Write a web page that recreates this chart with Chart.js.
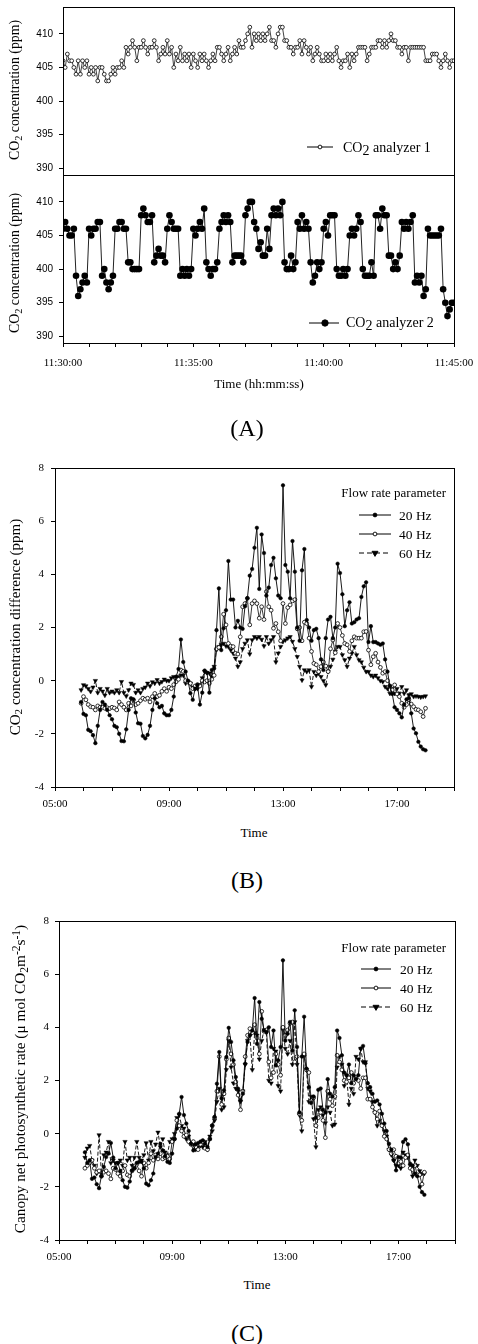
<!DOCTYPE html>
<html><head><meta charset="utf-8"><title>CO2 flow rate charts</title>
<script src="https://cdn.jsdelivr.net/npm/chart.js@4/dist/chart.umd.min.js"></script>
<style>
html,body{margin:0;padding:0;background:#fff;}
#wrap{position:relative;width:478px;height:1344px;overflow:hidden;font-family:"Liberation Serif","Times New Roman",serif;color:#000;}
canvas{position:absolute;left:0;}
.t{position:absolute;white-space:nowrap;line-height:1;}
.rot{transform:translate(-50%,-50%) rotate(-90deg);}
.ctr{transform:translate(-50%,-50%);}
sub{font-size:0.75em;vertical-align:-0.25em;line-height:0;}
sup{font-size:0.75em;vertical-align:0.45em;line-height:0;}
</style></head>
<body>
<div id="wrap">
<canvas id="cA1" width="478" height="180" style="top:0px;width:478px;height:180px"></canvas>
<canvas id="cA2" width="478" height="210" style="top:170px;width:478px;height:210px"></canvas>
<canvas id="cB" width="478" height="360" style="top:450px;width:478px;height:360px"></canvas>
<canvas id="cC" width="478" height="370" style="top:900px;width:478px;height:370px"></canvas>

<div class="t rot" style="left:15px;top:90px;font-size:13.8px">CO<sub>2</sub> concentration (ppm)</div>
<div class="t rot" style="left:15px;top:263px;font-size:13.8px">CO<sub>2</sub> concentration (ppm)</div>
<div class="t ctr" style="left:259px;top:383px;font-size:13px">Time (hh:mm:ss)</div>
<div class="t ctr" style="left:247px;top:428px;font-size:24px">(A)</div>

<div class="t rot" style="left:15px;top:627px;font-size:15px">CO<sub>2</sub> concentration difference (ppm)</div>
<div class="t ctr" style="left:254px;top:832px;font-size:13px">Time</div>
<div class="t ctr" style="left:247px;top:880px;font-size:24px">(B)</div>

<div class="t rot" style="left:20px;top:1079px;font-size:15.3px">Canopy net photosynthetic rate (μ mol CO<sub>2</sub>m<sup>-2</sup>s<sup>-1</sup>)</div>
<div class="t ctr" style="left:257px;top:1284px;font-size:13px">Time</div>
<div class="t ctr" style="left:247px;top:1333px;font-size:24px">(C)</div>
</div>
<script>
const SERIF='"Liberation Serif","Times New Roman",serif';
const SANS='"Liberation Sans",Arial,sans-serif';

// ---------- Panel A data (one reading every 5 s, 11:30:00 - 11:45:00) ----------
const aStepSec=5;
const aXTicks=[0,60,120,180,240,300,360,420,480,540,600,660,720,780,840,900];
const aXLabels={0:'11:30:00',300:'11:35:00',600:'11:40:00',900:'11:45:00'};
const aYTicks=[390,395,400,405,410];
const analyzer1=[
406,405,407,406,406,405,404,406,404,406,405,406,
404,405,404,405,403,405,405,404,403,403,404,405,
404,405,405,406,405,408,407,408,409,408,406,408,
408,409,408,407,408,408,409,408,406,407,408,407,
409,407,408,405,407,406,408,406,407,406,407,405,
407,406,405,407,406,407,406,405,406,407,406,408,
408,407,406,407,408,406,407,408,407,409,408,408,
409,410,411,408,410,409,410,409,410,409,410,411,
409,409,408,410,411,411,409,409,408,408,407,408,
408,409,407,409,408,407,408,406,407,408,407,406,
406,407,406,407,406,407,408,406,405,406,406,407,
405,407,406,407,408,408,408,408,406,407,408,408,
408,409,409,408,409,408,409,410,409,409,408,408,
407,408,408,406,408,408,408,408,408,408,408,406,
406,406,407,407,407,406,405,406,407,406,405,406,
406];
const analyzer2=[
406,407,406,405,405,406,399,396,397,398,399,398,
406,405,406,406,407,407,399,400,398,397,398,399,
406,406,407,407,406,406,401,401,400,400,400,400,
408,409,408,407,407,408,401,402,403,402,402,401,
406,408,407,406,406,406,399,400,399,400,399,400,
406,405,406,407,406,409,401,400,399,400,400,401,
406,407,408,407,408,407,401,402,402,402,402,401,
408,409,410,410,407,406,403,404,402,402,406,403,
408,409,408,409,408,410,401,400,400,402,400,401,
407,406,408,406,407,406,401,398,399,401,400,401,
406,407,405,408,408,408,400,399,399,400,399,400,
405,406,405,406,408,407,400,399,399,399,401,399,
408,408,406,409,408,408,402,402,400,401,400,402,
407,406,407,406,407,408,398,399,398,399,396,397,
406,405,405,405,405,405,406,397,395,393,394,395,
395];

// ---------- Panels B & C data (one value every 5 min from 05:55) ----------
const bcStartMin=355, bcStepMin=5;
const bcXTicks=[5,6,7,8,9,10,11,12,13,14,15,16,17,18,19];
const bcXLabels={5:'05:00',9:'09:00',13:'13:00',17:'17:00'};
const bcYTicks=[-4,-2,0,2,4,6,8];
const diff20=[-0.8,
-1.25,-1.3,-1.85,-1.9,-2.05,-2.35,-1.7,-1.1,-0.8,-0.9,-1.1,-1.3,
-1.45,-1.7,-1.75,-2.0,-2.27,-2.28,-1.83,-1.1,-0.66,-0.7,-1.2,-1.6,
-1.62,-2.08,-2.17,-2.04,-1.7,-1.1,-0.66,-0.85,-1.0,-0.95,-1.23,-1.3,
-1.3,-1.1,-0.6,0.15,0.44,1.55,0.7,0.34,0.0,-0.47,-0.72,-0.3,
-0.16,-0.9,-0.45,0.38,0.3,-0.45,0.4,0.46,1.9,3.47,1.15,1.97,
2.65,4.5,3.05,3.05,2.0,2.25,2.0,1.95,2.8,3.1,3.95,4.2,
5.0,5.75,3.45,5.5,4.8,3.2,3.5,4.35,4.62,3.85,3.2,3.1,
7.35,4.35,4.1,3.1,5.25,4.1,2.0,1.5,4.15,4.95,2.28,2.0,
1.5,1.9,1.95,1.6,0.8,0.4,1.6,2.3,2.4,1.6,2.0,4.4,
4.05,3.25,2.05,2.65,2.95,2.15,2.2,2.3,2.35,3.15,3.55,3.7,
1.45,2.05,1.45,1.45,1.4,1.35,1.4,0.8,0.34,-0.2,-0.5,-1.0,
-1.1,-1.23,-1.38,-0.9,-0.7,-0.65,-1.23,-1.8,-1.98,-2.3,-2.48,-2.58,
-2.62];
const diff40=[-0.85,
-0.6,-0.72,-0.9,-0.98,-1.0,-1.1,-0.95,-1.0,-1.0,-1.04,-1.02,-1.05,
-1.0,-1.03,-1.1,-0.8,-0.9,-1.0,-1.1,-0.85,-0.95,-0.73,-0.9,-0.85,
-0.75,-0.66,-0.7,-0.66,-0.8,-0.6,-0.48,-0.6,-0.55,-0.4,-0.3,-0.4,
-0.25,-0.3,-0.15,-0.04,0.05,0.4,0.35,0.0,-0.05,-0.1,-0.3,-0.2,
-0.15,-0.2,0.0,-0.05,0.0,-0.1,0.05,0.2,1.2,1.25,1.65,2.5,
2.1,1.4,1.3,1.28,1.03,1.0,1.65,2.78,2.9,3.1,2.1,2.9,
3.0,2.9,2.35,2.78,2.3,3.35,2.78,2.65,1.97,2.15,1.84,1.5,
2.9,2.15,2.75,2.85,3.0,3.05,1.95,2.0,1.5,2.2,2.15,1.6,
1.1,0.65,0.6,0.34,0.53,0.7,0.55,0.34,1.2,1.53,1.05,2.15,
2.0,1.7,1.4,1.35,1.1,1.5,1.65,1.6,1.6,1.6,1.84,1.85,
1.15,0.6,0.9,1.03,0.7,0.5,0.28,0.34,0.0,-0.2,-0.35,-0.16,
-0.5,-0.6,-0.85,-1.0,-0.9,-0.72,-0.88,-0.98,-1.08,-1.1,-1.17,-1.35,
-1.04];
const diff60=[-0.35,
-0.16,-0.2,-0.3,-0.41,-0.25,0.0,-0.45,-0.3,-0.4,-0.55,-0.3,-0.45,
-0.4,-0.45,-0.35,-0.45,-0.04,-0.45,-0.58,-0.35,-0.1,-0.15,-0.45,-0.35,
-0.45,-0.3,-0.25,-0.1,-0.2,-0.05,-0.1,0.03,-0.1,-0.04,0.05,0.0,
0.0,0.1,0.15,0.0,0.15,0.2,0.2,-0.1,-0.04,-0.1,-0.25,-0.3,
-0.3,-0.16,0.1,0.34,0.3,0.28,0.15,0.53,1.15,1.28,1.35,1.4,
1.3,1.28,1.15,1.03,0.84,0.53,0.7,1.2,1.4,1.53,1.0,1.53,
1.65,1.6,1.65,1.55,1.3,1.65,1.4,1.53,1.65,0.7,1.03,1.28,
1.47,1.53,1.6,1.65,1.47,1.2,0.9,0.53,0.02,0.4,0.34,0.4,
-0.23,0.34,0.2,0.28,0.15,0.0,-0.16,0.34,0.53,0.8,1.1,1.28,
1.28,0.97,0.78,0.53,0.84,1.03,1.28,0.97,0.78,0.7,0.5,0.34,
0.34,0.2,0.15,0.2,0.1,0.0,-0.04,-0.23,-0.3,-0.48,-0.3,-0.48,
-0.3,-0.48,-0.23,-0.48,-0.35,-0.54,-0.5,-0.6,-0.58,-0.6,-0.62,-0.6,
-0.58];
const photo20=[-0.7,
-1.1,-1.0,-1.7,-1.65,-1.9,-2.05,-1.6,-1.25,-0.88,-0.75,-0.35,-0.9,
-1.3,-1.1,-1.4,-1.75,-2.0,-2.03,-1.8,-1.38,-1.3,-1.1,-1.06,-1.06,
-1.3,-1.88,-1.94,-1.75,-1.5,-0.88,-0.75,-0.38,-0.63,-0.85,-1.06,-1.1,
-0.75,-0.2,0.19,0.75,1.38,0.7,0.38,0.1,-0.38,-0.63,-0.4,-0.35,
-0.3,-0.25,-0.38,-0.5,-0.2,0.31,0.63,1.88,3.07,1.32,1.63,2.88,
3.98,3.45,2.76,2.13,1.69,1.25,1.5,2.63,3.45,3.7,3.88,5.1,
3.38,4.95,4.32,3.88,3.82,4.0,3.26,3.88,2.57,2.76,3.26,6.52,
3.5,3.76,4.2,3.13,4.64,3.26,0.8,2.9,4.4,2.45,1.75,1.15,
1.4,0.6,1.65,1.7,0.9,0.8,2.05,1.5,1.4,1.75,3.88,3.6,
2.95,2.3,2.2,2.6,1.9,2.2,2.05,2.2,3.2,3.3,2.65,1.9,
1.75,1.5,1.2,1.25,1.1,0.75,0.38,0.1,-0.38,-0.6,-1.0,-1.38,
-0.88,-0.9,-0.31,-0.21,-0.4,-1.13,-1.2,-1.5,-1.6,-2.0,-2.2,-2.3];
const photo40=[-1.3,
-1.2,-1.1,-1.0,-1.3,-1.45,-1.4,-1.6,-1.45,-1.4,-1.5,-1.7,-1.3,
-1.35,-1.5,-1.6,-1.4,-1.2,-1.55,-1.6,-1.4,-1.3,-1.15,-1.4,-1.6,
-1.1,-1.3,-1.1,-0.75,-1.0,-0.8,-0.95,-0.75,-0.95,-0.9,-0.85,-0.95,
-0.3,-0.2,0.5,0.3,0.1,-0.1,-0.05,-0.3,-0.4,-0.3,-0.5,-0.6,
-0.4,-0.3,-0.55,-0.6,-0.2,0.3,0.6,1.6,2.9,1.1,1.5,2.8,
3.6,3.0,2.6,1.95,1.45,0.9,1.6,2.9,3.7,3.95,3.8,4.1,
3.6,3.0,4.6,3.85,3.9,2.7,2.1,2.3,3.0,2.6,2.2,4.0,
3.7,3.9,4.15,4.2,2.7,2.9,0.75,0.5,3.0,2.4,2.3,1.25,
1.35,0.3,0.6,0.8,0.5,-0.15,1.6,1.3,1.05,1.4,2.95,2.7,
2.4,2.0,1.95,2.1,2.3,1.9,2.1,2.0,1.7,2.1,2.1,1.3,
1.3,1.0,0.8,0.55,0.85,0.3,-0.1,-0.2,-0.6,-0.75,-0.6,-0.85,
-1.1,-1.05,-1.2,-0.9,-0.8,-1.3,-1.35,-1.2,-1.55,-1.55,-1.9,-1.45];
const photo60=[-0.9,
-0.55,-0.45,-1.0,-1.2,-1.5,-0.05,-1.5,-0.8,-0.7,-0.3,-1.1,-1.0,
-1.1,-1.1,-1.0,-1.2,-0.3,-1.0,-0.9,-1.2,-0.9,-0.3,-0.9,-1.0,
-0.8,-0.35,-1.0,-0.3,-0.65,-0.4,0.05,-0.5,-0.2,-0.7,-0.8,-0.3,
-0.2,0.0,0.6,0.7,0.3,0.2,-0.2,-0.1,-0.35,-0.4,-0.6,-0.5,
-0.45,-0.5,-0.3,-0.6,-0.1,0.1,0.5,1.2,1.7,0.9,1.0,2.4,
3.5,2.5,1.9,1.7,1.6,1.2,1.6,2.6,3.5,3.7,2.4,3.8,
3.7,2.8,3.5,3.9,3.8,2.0,1.9,3.2,3.1,1.8,1.6,3.9,
3.2,3.0,3.5,2.6,4.2,2.6,0.7,0.1,2.9,2.4,1.2,1.4,
0.55,-0.5,0.9,1.0,0.7,0.4,1.0,0.8,0.3,0.35,2.5,2.9,
2.6,1.8,2.2,1.1,1.7,1.5,2.9,2.8,3.2,2.7,2.7,1.7,
1.6,1.2,0.8,0.3,0.5,0.35,0.1,-0.1,-0.6,-0.8,-1.0,-1.2,
-1.2,-1.3,-0.7,-0.8,-0.9,-1.2,-1.6,-1.0,-1.2,-1.4,-1.5,-1.5];

// ---------- helpers ----------
const ptsA=arr=>arr.map((v,i)=>({x:i*aStepSec,y:v}));
const ptsBC=arr=>arr.map((v,i)=>({x:(bcStartMin+i*bcStepMin)/60,y:v}));

function drawMarker(ctx,type,x,y,r){
  ctx.save();ctx.setLineDash([]);ctx.beginPath();
  if(type==='tri'){ctx.moveTo(x-r*1.15,y-r*0.65);ctx.lineTo(x+r*1.15,y-r*0.65);ctx.lineTo(x,y+r*1.3);ctx.closePath();}
  else ctx.arc(x,y,r,0,Math.PI*2);
  ctx.fillStyle=type==='open'?'#fff':'#000';ctx.fill();
  ctx.lineWidth=0.9;ctx.strokeStyle='#000';ctx.stroke();ctx.restore();
}
function framePlugin(){return{id:'frame',afterDraw(c){const a=c.chartArea,x=c.ctx;x.save();x.strokeStyle='#000';x.lineWidth=1;x.setLineDash([]);
  x.strokeRect(Math.round(a.left)+0.5,Math.round(a.top)+0.5,Math.round(a.right)-Math.round(a.left),Math.round(a.bottom)-Math.round(a.top));x.restore();}};}
function legendPlugin(spec,offY){return{id:'lg',afterDraw(c){
  const ctx=c.ctx;ctx.save();ctx.fillStyle='#000';
  if(spec.title){ctx.font=spec.title.font;ctx.textAlign='right';ctx.textBaseline='alphabetic';ctx.fillText(spec.title.text,spec.title.x,spec.title.y-offY);}
  for(const it of spec.items){
    const y=it.y-offY;
    ctx.beginPath();ctx.setLineDash(it.dash||[]);ctx.lineWidth=1;ctx.strokeStyle='#000';
    ctx.moveTo(it.x1,y);ctx.lineTo(it.x2,y);ctx.stroke();ctx.setLineDash([]);
    drawMarker(ctx,it.marker,it.mx!==undefined?it.mx:(it.x1+it.x2)/2,y,it.r);
    ctx.font=it.font;ctx.textAlign='left';ctx.textBaseline='alphabetic';ctx.fillStyle='#000';
    let x=it.tx;
    for(const p of it.text){ctx.fillText(p.t,x,it.ty-offY+(p.dy||0));x+=ctx.measureText(p.t).width;}
  }
  ctx.restore();}};}
function yScale(o){return{type:'linear',position:'left',min:o.min,max:o.max,
  afterBuildTicks:s=>{s.ticks=o.ticks.map(v=>({value:v}));},
  afterFit:s=>{s.width=o.width;s.paddingTop=0;s.paddingBottom=0;},
  ticks:{font:{family:o.family,size:o.size},color:'#000',padding:o.pad,callback:v=>String(v)},
  grid:{drawOnChartArea:false,drawTicks:true,tickLength:4,color:'#000',lineWidth:1},
  border:{display:false}};}
function xScale(o){return{type:'linear',position:'bottom',min:o.min,max:o.max,display:o.display!==false,
  afterBuildTicks:s=>{s.ticks=o.ticks.map(v=>({value:v}));},
  afterFit:s=>{s.height=o.height;s.paddingLeft=0;s.paddingRight=0;},
  ticks:{autoSkip:false,maxRotation:0,minRotation:0,font:{family:SERIF,size:11},color:'#000',padding:o.pad,callback:v=>o.labels[v]||''},
  grid:{drawOnChartArea:false,drawTicks:true,tickLength:4,color:'#000',lineWidth:1},
  border:{display:false}};}
const baseOpts=(pad,scales)=>({responsive:false,animation:false,devicePixelRatio:1,
  layout:{padding:pad},plugins:{legend:{display:false},tooltip:{enabled:false}},
  events:[],scales:scales});

// ---------- Panel A top ----------
new Chart(document.getElementById('cA1'),{type:'line',
  data:{datasets:[{data:ptsA(analyzer1),borderColor:'#111',borderWidth:0.8,tension:0,
    pointRadius:1.9,pointBorderWidth:0.8,pointBackgroundColor:'#fff',pointBorderColor:'#000'}]},
  options:baseOpts({top:7,right:24,bottom:5,left:0},{
    x:xScale({min:0,max:900,ticks:aXTicks,labels:aXLabels,height:0,pad:10,display:false}),
    y:yScale({min:389,max:414,ticks:aYTicks,width:63,family:SANS,size:10,pad:6})}),
  plugins:[framePlugin(),legendPlugin({items:[
    {x1:307,x2:333,y:147,marker:'open',r:1.9,tx:343,ty:152,font:'14px '+SERIF,
     text:[{t:'CO'},{t:'2',dy:3},{t:' analyzer 1'}]}]},0)]});

// ---------- Panel A bottom ----------
new Chart(document.getElementById('cA2'),{type:'line',
  data:{datasets:[{data:ptsA(analyzer2),borderColor:'#222',borderWidth:1,tension:0,
    pointRadius:3.3,pointBorderWidth:0,pointBackgroundColor:'#000',pointBorderColor:'#000'}]},
  options:baseOpts({top:5,right:24,bottom:0,left:0},{
    x:xScale({min:0,max:900,ticks:aXTicks,labels:aXLabels,height:37,pad:10}),
    y:yScale({min:389,max:414,ticks:aYTicks,width:63,family:SANS,size:10,pad:6})}),
  plugins:[framePlugin(),legendPlugin({items:[
    {x1:309,x2:339,y:323,mx:325,marker:'filled',r:3.2,tx:346,ty:327,font:'14px '+SERIF,
     text:[{t:'CO'},{t:'2',dy:3},{t:' analyzer 2'}]}]},170)]});

// ---------- Panel B / C ----------
function seriesSet(a20,a40,a60){return[
  {data:ptsBC(a20),borderColor:'#000',borderWidth:0.9,tension:0,pointRadius:1.8,pointBorderWidth:0.5,pointBackgroundColor:'#000',pointBorderColor:'#000'},
  {data:ptsBC(a40),borderColor:'#222',borderWidth:0.9,tension:0,pointRadius:1.9,pointBorderWidth:0.8,pointBackgroundColor:'#fff',pointBorderColor:'#000'},
  {data:ptsBC(a60),borderColor:'#000',borderWidth:0.9,borderDash:[4,2],tension:0,pointStyle:'triangle',pointRotation:180,pointRadius:2.5,pointBorderWidth:0.5,pointBackgroundColor:'#000',pointBorderColor:'#000'}];}
function flowLegend(titleY,ys,x1,x2,tx){
  const f='13.5px '+SERIF;
  return{title:{text:'Flow rate parameter',x:446,y:titleY,font:'13px '+SERIF},items:[
    {x1,x2,y:ys[0],marker:'filled',r:1.9,tx,ty:ys[0]+4.5,font:f,text:[{t:'20 Hz'}]},
    {x1,x2,y:ys[1],marker:'open',r:1.9,tx,ty:ys[1]+4.5,font:f,text:[{t:'40 Hz'}]},
    {x1,x2,y:ys[2],marker:'tri',r:2.6,dash:[5,3],tx,ty:ys[2]+4.5,font:f,text:[{t:'60 Hz'}]}]};}

new Chart(document.getElementById('cB'),{type:'line',
  data:{datasets:seriesSet(diff20,diff40,diff60)},
  options:baseOpts({top:18,right:24,bottom:0,left:0},{
    x:xScale({min:5,max:19,ticks:bcXTicks,labels:bcXLabels,height:23,pad:7}),
    y:yScale({min:-4,max:8,ticks:bcYTicks,width:55,family:SERIF,size:11,pad:7})}),
  plugins:[framePlugin(),legendPlugin(flowLegend(497,[515,534,553],359,391,399),450)]});

new Chart(document.getElementById('cC'),{type:'line',
  data:{datasets:seriesSet(photo20,photo40,photo60)},
  options:baseOpts({top:21,right:23,bottom:0,left:0},{
    x:xScale({min:5,max:19,ticks:bcXTicks,labels:bcXLabels,height:30,pad:7}),
    y:yScale({min:-4,max:8,ticks:bcYTicks,width:59,family:SERIF,size:11,pad:6})}),
  plugins:[framePlugin(),legendPlugin(flowLegend(952,[969,988,1007],361,391,400),900)]});
</script>
</body></html>
